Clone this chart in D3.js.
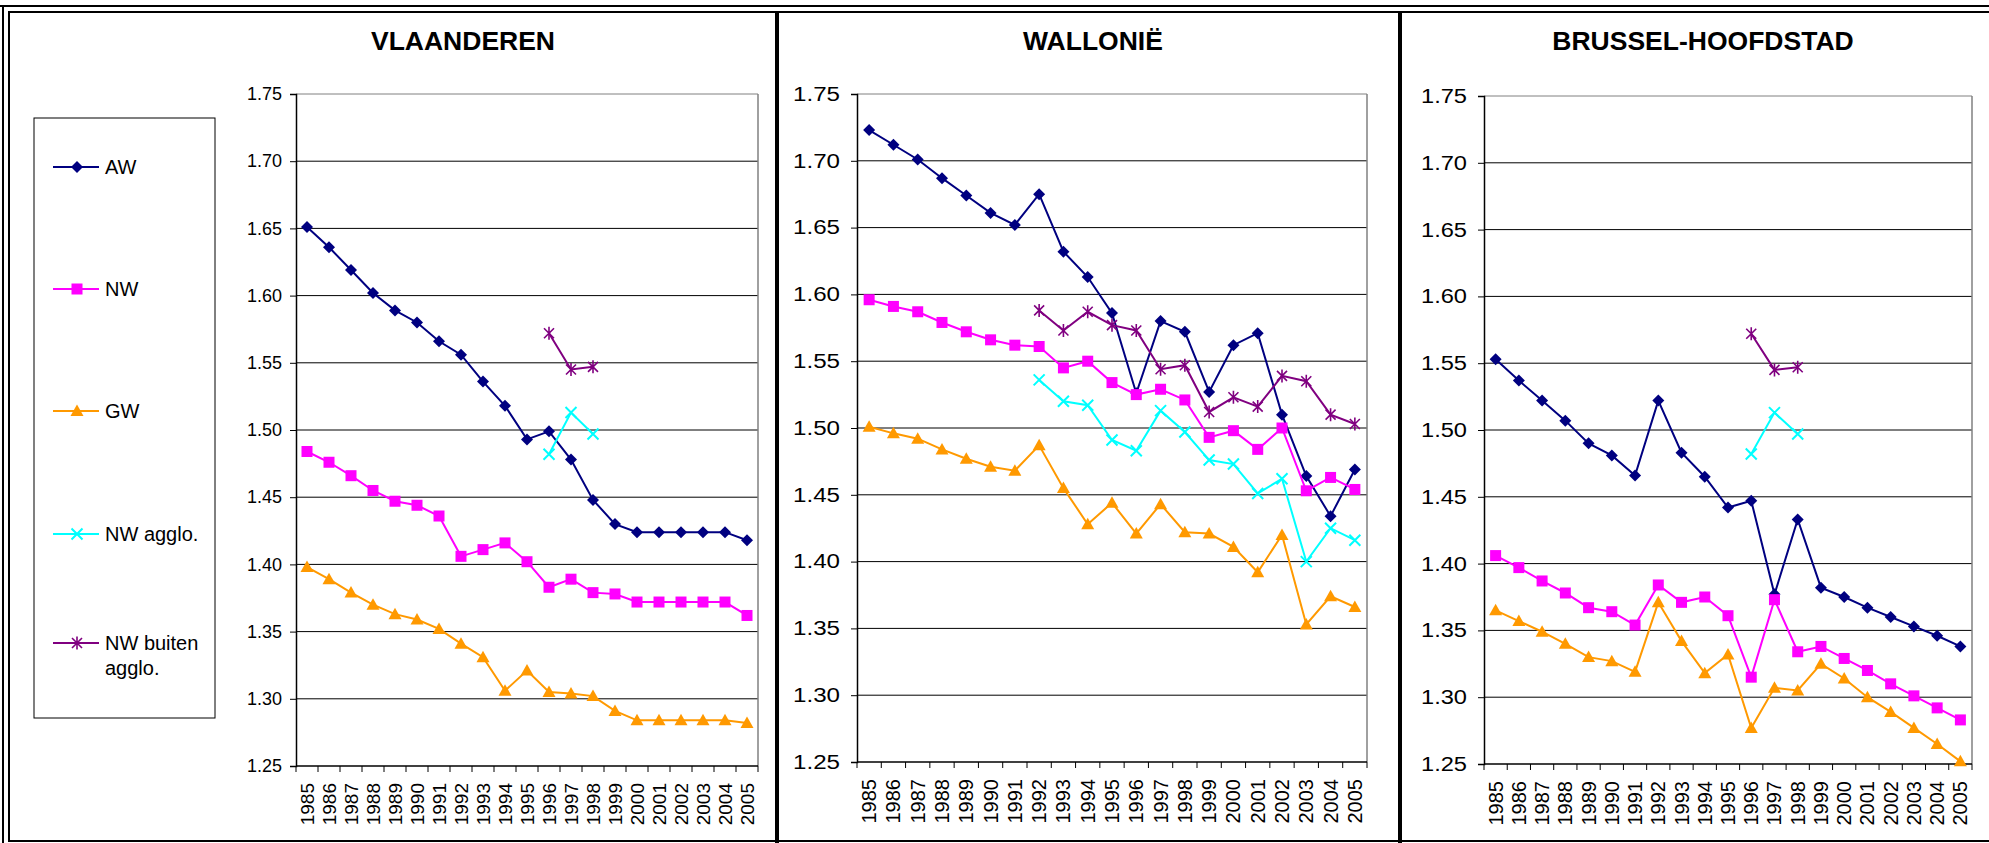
<!DOCTYPE html>
<html>
<head>
<meta charset="utf-8">
<script src="https://cdn.jsdelivr.net/npm/d3@7"></script>
<style>
  html, body { margin: 0; padding: 0; background: #fff; }
  svg { display: block; font-family: "Liberation Sans", Arial, sans-serif; }
</style>
</head>
<body>
<svg id="chart" width="1989" height="843"></svg>
<script>
const years = ["1985","1986","1987","1988","1989","1990","1991","1992","1993","1994","1995",
               "1996","1997","1998","1999","2000","2001","2002","2003","2004","2005"]
const yTicks = [1.25, 1.30, 1.35, 1.40, 1.45, 1.50, 1.55, 1.60, 1.65, 1.70, 1.75]
const seriesNames = ["AW", "NW", "GW", "NW agglo.", "NW buiten agglo."]

// Vlaanderen
const vlAW  = [1.651,1.636,1.619,1.602,1.589,1.580,1.566,1.556,1.536,1.518,1.493,1.499,1.478,1.448,1.430,1.424,1.424,1.424,1.424,1.424,1.418]
const vlNW  = [1.484,1.476,1.466,1.455,1.447,1.444,1.436,1.406,1.411,1.416,1.402,1.383,1.389,1.379,1.378,1.372,1.372,1.372,1.372,1.372,1.362]
const vlGW  = [1.398,1.389,1.379,1.370,1.363,1.359,1.352,1.341,1.331,1.306,1.321,1.305,1.304,1.302,1.291,1.284,1.284,1.284,1.284,1.284,1.282]
const vlNWa = [null,null,null,null,null,null,null,null,null,null,null,1.482,1.513,1.497,null,null,null,null,null,null,null]
const vlNWb = [null,null,null,null,null,null,null,null,null,null,null,1.572,1.545,1.547,null,null,null,null,null,null,null]

// Wallonië
const waAW  = [1.723,1.712,1.701,1.687,1.674,1.661,1.652,1.675,1.632,1.613,1.586,1.526,1.580,1.572,1.527,1.562,1.571,1.510,1.464,1.434,1.469]
const waNW  = [1.596,1.591,1.587,1.579,1.572,1.566,1.562,1.561,1.545,1.550,1.534,1.525,1.529,1.521,1.493,1.498,1.484,1.500,1.453,1.463,1.454]
const waGW  = [1.501,1.496,1.492,1.484,1.477,1.471,1.468,1.487,1.455,1.428,1.444,1.421,1.443,1.422,1.421,1.411,1.392,1.420,1.353,1.374,1.366]
const waNWa = [null,null,null,null,null,null,null,1.536,1.520,1.517,1.491,1.483,1.513,1.497,1.476,1.473,1.451,1.462,1.400,1.425,1.416]
const waNWb = [null,null,null,null,null,null,null,1.588,1.573,1.587,1.577,1.573,1.544,1.547,1.512,1.523,1.516,1.539,1.535,1.510,1.503]

// Brussel-Hoofdstad
const brAW  = [1.553,1.537,1.522,1.507,1.490,1.481,1.466,1.522,1.483,1.465,1.442,1.447,1.377,1.433,1.382,1.375,1.367,1.360,1.353,1.346,1.338]
const brNW  = [1.406,1.397,1.387,1.378,1.367,1.364,1.354,1.384,1.371,1.375,1.361,1.315,1.373,1.334,1.338,1.329,1.320,1.310,1.301,1.292,1.283]
const brGW  = [1.365,1.357,1.349,1.340,1.330,1.327,1.319,1.371,1.342,1.318,1.332,1.277,1.307,1.305,1.325,1.314,1.300,1.289,1.277,1.265,1.252]
const brNWa = [null,null,null,null,null,null,null,null,null,null,null,1.482,1.513,1.497,null,null,null,null,null,null,null]
const brNWb = [null,null,null,null,null,null,null,null,null,null,null,1.572,1.545,1.547,null,null,null,null,null,null,null]

const colors = ["#000080", "#ff00ff", "#ff9900", "#00ffff", "#800080"]
const markers = ["diamond", "square", "triangle", "cross", "star"]

const panels = [
  { title: "VLAANDEREN", series: [vlAW, vlNW, vlGW, vlNWa, vlNWb], x0: 296, x1: 758, y0: 94, y1: 766, tx: 463,
    yFont: 18, yLen: 35, yPad: 8, xFont: 19 },
  { title: "WALLONIË", series: [waAW, waNW, waGW, waNWa, waNWb], x0: 857, x1: 1367, y0: 94, y1: 762, tx: 1093,
    yFont: 19.5, yLen: 47, yPad: 11, xFont: 20 },
  { title: "BRUSSEL-HOOFDSTAD", series: [brAW, brNW, brGW, brNWa, brNWb], x0: 1484, x1: 1972, y0: 96, y1: 764, tx: 1703,
    yFont: 20.5, yLen: 46, yPad: 11, xFont: 20 }
]

const svg = d3.select("#chart")

// outer frame
const frame = svg.append("g").attr("stroke", "#000").attr("fill", "none")
frame.append("line").attr("x1", 0).attr("x2", 1989).attr("y1", 6).attr("y2", 6).attr("stroke-width", 2)
frame.append("line").attr("x1", 8).attr("x2", 1989).attr("y1", 12).attr("y2", 12).attr("stroke-width", 2)
frame.append("line").attr("x1", 3).attr("x2", 3).attr("y1", 5).attr("y2", 843).attr("stroke-width", 2)
frame.append("line").attr("x1", 9).attr("x2", 9).attr("y1", 11).attr("y2", 841).attr("stroke-width", 2)
frame.append("line").attr("x1", 8).attr("x2", 1989).attr("y1", 841).attr("y2", 841).attr("stroke-width", 2)
frame.append("line").attr("x1", 777).attr("x2", 777).attr("y1", 12).attr("y2", 843).attr("stroke-width", 4)
frame.append("line").attr("x1", 1400).attr("x2", 1400).attr("y1", 12).attr("y2", 843).attr("stroke-width", 4)

function drawMarker(g, type, color) {
  if (type === "diamond") {
    g.append("path").attr("d", "M0,-6L6,0L0,6L-6,0Z").attr("fill", color)
  } else if (type === "square") {
    g.append("rect").attr("x", -5.5).attr("y", -5.5).attr("width", 11).attr("height", 11).attr("fill", color)
  } else if (type === "triangle") {
    g.append("path").attr("d", "M0,-6.5L6.5,5L-6.5,5Z").attr("fill", color)
  } else if (type === "cross") {
    g.append("path").attr("d", "M-5.5,-5.5L5.5,5.5M-5.5,5.5L5.5,-5.5").attr("stroke", color).attr("stroke-width", 2)
  } else {
    g.append("path").attr("d", "M-5,-5L5,5M-5,5L5,-5M0,-6.5L0,6.5").attr("stroke", color).attr("stroke-width", 1.6)
  }
}

panels.forEach(p => {
  const g = svg.append("g")

  g.append("text")
    .attr("x", p.tx).attr("y", 50)
    .attr("text-anchor", "middle")
    .style("font-size", "26.5px").style("font-weight", "bold")
    .text(p.title)

  const x = d3.scaleBand().domain(years).range([p.x0, p.x1]).padding(0)
  const y = d3.scaleLinear().domain([1.25, 1.75]).range([p.y1, p.y0])
  const cx = d => x(d) + x.bandwidth() / 2

  // gridlines
  g.append("g").selectAll("line")
    .data(yTicks.slice(1))
    .join("line")
      .attr("x1", p.x0).attr("x2", p.x1)
      .attr("y1", d => y(d)).attr("y2", d => y(d))
      .attr("stroke", (d, i) => i === yTicks.length - 2 ? "#808080" : "#000")
      .attr("stroke-width", 1)
  g.append("line")
    .attr("x1", p.x1).attr("x2", p.x1).attr("y1", p.y0).attr("y2", p.y1)
    .attr("stroke", "#808080").attr("stroke-width", 1.5)

  // y axis
  const yAxis = g.append("g")
    .attr("transform", `translate(${p.x0},0)`)
    .call(d3.axisLeft(y).tickValues(yTicks).tickFormat(d3.format(".2f")).tickSize(6).tickPadding(p.yPad))
  yAxis.select(".domain").attr("stroke", "#000").attr("stroke-width", 1.5)
  yAxis.selectAll(".tick line").attr("stroke", "#000")
  yAxis.selectAll("text")
    .style("font-size", p.yFont + "px").attr("fill", "#000")
    .attr("textLength", p.yLen).attr("lengthAdjust", "spacingAndGlyphs")

  // x axis
  const xAxis = g.append("g")
    .attr("transform", `translate(0,${p.y1})`)
    .call(d3.axisBottom(x).tickSize(0).tickPadding(0))
  xAxis.select(".domain").attr("stroke", "#000").attr("stroke-width", 1.5).attr("d", `M${p.x0},0H${p.x1}`)
  xAxis.selectAll("text")
    .style("font-size", p.xFont + "px").attr("fill", "#000")
    .attr("text-anchor", "end")
    .attr("transform", "rotate(-90)")
    .attr("x", -17).attr("y", 0).attr("dy", "0.35em")
  g.append("g").selectAll("line")
    .data(years.map(d => x(d)).concat([p.x1]))
    .join("line")
      .attr("x1", d => d).attr("x2", d => d)
      .attr("y1", p.y1).attr("y2", p.y1 + 6)
      .attr("stroke", "#000")

  // series
  const line = d3.line()
    .defined(d => d.v != null)
    .x(d => cx(d.year))
    .y(d => y(d.v))

  p.series.forEach((vals, si) => {
    const pts = years.map((yr, i) => ({ year: yr, v: vals[i] }))
    const sg = g.append("g")
    sg.append("path")
      .datum(pts)
      .attr("fill", "none")
      .attr("stroke", colors[si])
      .attr("stroke-width", 2)
      .attr("d", line)
    sg.selectAll("g.mk")
      .data(pts.filter(d => d.v != null))
      .join("g")
        .attr("class", "mk")
        .attr("transform", d => `translate(${cx(d.year)},${y(d.v)})`)
        .each(function () { drawMarker(d3.select(this), markers[si], colors[si]) })
  })
})

// legend
const legend = svg.append("g")
legend.append("rect")
  .attr("x", 34).attr("y", 118).attr("width", 181).attr("height", 600)
  .attr("fill", "none").attr("stroke", "#000").attr("stroke-width", 1)

const legendY = [167, 289, 411, 534, 643]
seriesNames.forEach((name, i) => {
  const lg = legend.append("g").attr("transform", `translate(0,${legendY[i]})`)
  lg.append("line").attr("x1", 53).attr("x2", 99).attr("y1", 0).attr("y2", 0)
    .attr("stroke", colors[i]).attr("stroke-width", 2)
  drawMarker(lg.append("g").attr("transform", "translate(77,0)"), markers[i], colors[i])
  const words = name === "NW buiten agglo." ? ["NW buiten", "agglo."] : [name]
  lg.append("text")
    .attr("x", 105).attr("y", 0)
    .style("font-size", "20px")
    .selectAll("tspan")
    .data(words)
    .join("tspan")
      .attr("x", 105)
      .attr("dy", (d, j) => j === 0 ? "0.35em" : "1.25em")
      .text(d => d)
})
</script>
</body>
</html>
